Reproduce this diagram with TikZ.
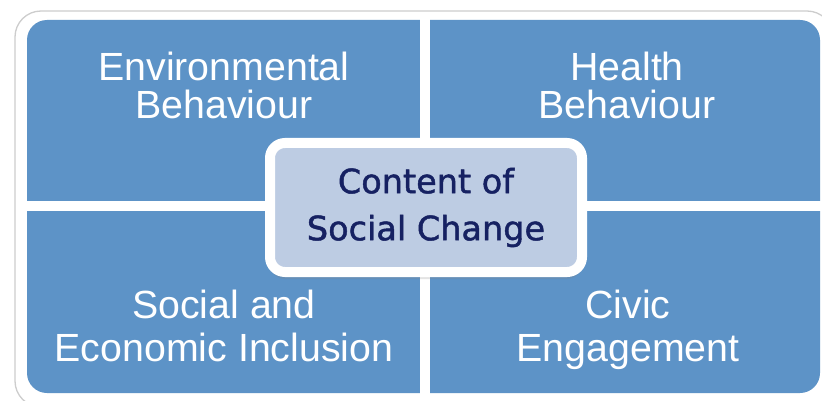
\documentclass[tikz,border=0pt]{standalone}
\usepackage{fontspec}
\setmainfont{Liberation Sans}
\newfontfamily\hubfont{DejaVu Sans}[FakeBold=1.4]
\usetikzlibrary{shadows}
\definecolor{quadblue}{RGB}{93,147,199}
\definecolor{hubblue}{RGB}{189,204,227}
\definecolor{hubtext}{RGB}{22,33,98}
\definecolor{framegrey}{RGB}{205,205,205}
\tikzset{
  outerframe/.style={draw=framegrey, line width=1.3pt, fill=white, rounded corners=26pt},
  quadfill/.style={fill=quadblue, rounded corners=20pt},
  gapfill/.style={fill=white},
  quadtext/.style={text=white, align=center, inner sep=0pt, anchor=north},
  toptext/.style={quadtext, font=\fontsize{39.3}{38.5}\selectfont},
  lowtext/.style={quadtext, font=\fontsize{39.3}{43}\selectfont},
  hubbox/.style={
    draw=white,
    line width=10pt,
    fill=hubblue,
    rounded corners=15pt,
    text=hubtext,
    align=center,
    inner sep=0pt,
    minimum width=312pt,
    minimum height=129pt,
    font=\hubfont\fontsize{33.5}{47}\selectfont,
    drop shadow={opacity=0.22, shadow xshift=0pt, shadow yshift=-7pt}
  }
}

\begin{document}
\begin{tikzpicture}[x=1pt, y=-1pt]
  \useasboundingbox (0,0) rectangle (822,401);
  % frame and the four quarters
  \draw[outerframe] (15,11) rectangle (833,407);
  \fill[quadfill] (27,20) rectangle (820,393);
  \fill[gapfill] (420,14) rectangle (430,399);
  \fill[gapfill] (22,201) rectangle (826,211);

  \node[toptext] (envbeh) at (224,51.5) {Environmental\\Behaviour};
  \node[toptext] (healthbeh) at (627,51.5) {Health\\Behaviour};
  \node[lowtext] (inclusion) at (224,289.5) {Social and\\Economic Inclusion};
  \node[lowtext] (civic) at (628,289.5) {Civic\\Engagement};

  % centre box
  \node[hubbox] (content) at (426,207.5) {Content of\\Social Change};
\end{tikzpicture}
\end{document}
